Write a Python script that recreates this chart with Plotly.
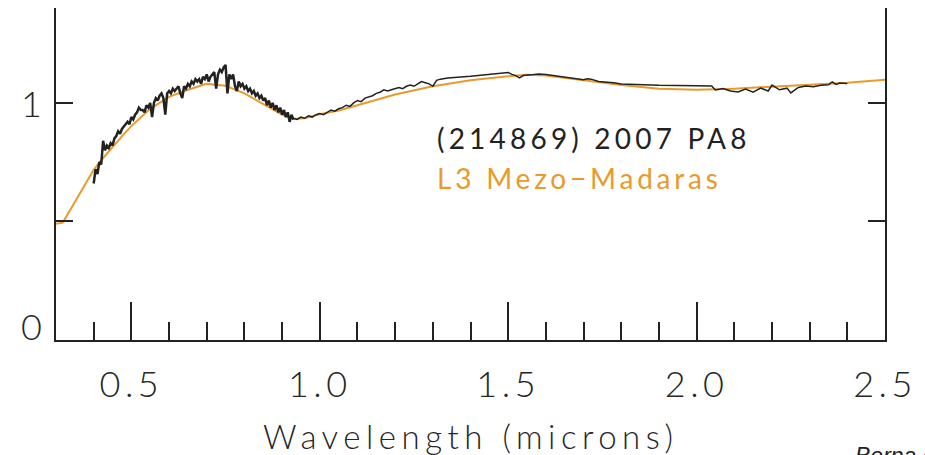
import plotly.graph_objects as go

# Visible-range reflectance spectrum of (214869) 2007 PA8
vis_wavelength = [
    0.400, 0.405, 0.410, 0.415, 0.420, 0.425, 0.430, 0.435, 0.440, 0.445,
    0.450, 0.455, 0.460, 0.465, 0.470, 0.475, 0.480, 0.485, 0.490, 0.495,
    0.500, 0.505, 0.510, 0.515, 0.520, 0.525, 0.530, 0.535, 0.540, 0.545,
    0.550, 0.555, 0.560, 0.565, 0.570, 0.575, 0.580, 0.585, 0.590, 0.595,
    0.600, 0.605, 0.610, 0.615, 0.620, 0.625, 0.630, 0.635, 0.640, 0.645,
    0.650, 0.655, 0.660, 0.665, 0.670, 0.675, 0.680, 0.685, 0.690, 0.695,
    0.700, 0.705, 0.710, 0.715, 0.720, 0.725, 0.730, 0.735, 0.740, 0.745,
    0.750, 0.755, 0.760, 0.765, 0.770, 0.775, 0.780, 0.785, 0.790, 0.795,
    0.800, 0.805, 0.810, 0.815, 0.820, 0.825, 0.830, 0.835, 0.840, 0.845,
    0.850, 0.855, 0.860, 0.865, 0.870, 0.875, 0.880, 0.885, 0.890, 0.895,
    0.900, 0.905, 0.910, 0.915, 0.920, 0.925, 0.930,
]
vis_reflectance = [
    0.66, 0.72, 0.70, 0.75, 0.74, 0.84, 0.80, 0.82, 0.81, 0.83,
    0.82, 0.85, 0.86, 0.88, 0.87, 0.89, 0.90, 0.91, 0.92, 0.91,
    0.94, 0.93, 0.95, 0.96, 0.98, 0.97, 0.97, 0.96, 0.99, 0.98,
    1.00, 0.94, 1.00, 1.02, 1.01, 1.03, 1.04, 1.02, 0.95, 1.04,
    1.05, 1.04, 1.06, 1.05, 1.06, 1.07, 1.04, 1.02, 1.07, 1.06,
    1.08, 1.07, 1.09, 1.08, 1.10, 1.09, 1.10, 1.08, 1.11, 1.10,
    1.12, 1.09, 1.11, 1.12, 1.13, 1.06, 1.12, 1.14, 1.13, 1.15,
    1.16, 1.04, 1.12, 1.10, 1.12, 1.07, 1.05, 1.09, 1.07, 1.08,
    1.06, 1.07, 1.05, 1.06, 1.04, 1.05, 1.03, 1.04, 1.02, 1.03,
    1.01, 1.02, 0.99, 1.01, 0.98, 1.00, 0.97, 0.99, 0.96, 0.98,
    0.95, 0.97, 0.94, 0.96, 0.92, 0.95, 0.93,
]

# Near-infrared reflectance spectrum of (214869) 2007 PA8
nir_wavelength = [
    0.93, 0.94, 0.95, 0.96, 0.97, 0.98, 0.99,
    1.00, 1.01, 1.02, 1.03, 1.04, 1.05, 1.06, 1.07, 1.08, 1.09,
    1.10, 1.11, 1.12, 1.13, 1.14, 1.15, 1.16, 1.17, 1.18, 1.19,
    1.20, 1.21, 1.22, 1.23, 1.24, 1.25, 1.26, 1.27, 1.28, 1.29,
    1.30, 1.31, 1.32, 1.34, 1.40, 1.46, 1.49,
    1.50, 1.51, 1.52, 1.53, 1.54,
    1.56, 1.58, 1.60, 1.62, 1.64, 1.66, 1.68, 1.70,
    1.71, 1.72, 1.74, 1.76, 1.78, 1.80, 1.90, 2.00,
    2.04, 2.05, 2.07, 2.09, 2.11, 2.13, 2.15, 2.17, 2.19,
    2.20, 2.22, 2.24, 2.25, 2.27, 2.29,
    2.31, 2.33, 2.35, 2.36, 2.37, 2.38, 2.40,
]
nir_reflectance = [
    0.935, 0.93, 0.94, 0.935, 0.945, 0.94, 0.95,
    0.955, 0.95, 0.96, 0.97, 0.965, 0.975, 0.98, 0.99, 0.985, 1.00,
    1.01, 1.005, 1.02, 1.025, 1.03, 1.04, 1.045, 1.055, 1.05, 1.055,
    1.06, 1.065, 1.06, 1.07, 1.075, 1.07, 1.08, 1.09, 1.085, 1.08,
    1.07, 1.095, 1.10, 1.105, 1.112, 1.12, 1.125,
    1.128, 1.12, 1.115, 1.105, 1.115,
    1.118, 1.122, 1.12, 1.115, 1.11, 1.105, 1.10, 1.098,
    1.102, 1.10, 1.09, 1.088, 1.085, 1.08, 1.074, 1.072,
    1.071, 1.054, 1.06, 1.05, 1.046, 1.058, 1.045, 1.062, 1.05,
    1.075, 1.055, 1.062, 1.042, 1.065, 1.071,
    1.068, 1.074, 1.076, 1.088, 1.078, 1.084, 1.082,
]

# Laboratory spectrum of the L3 ordinary chondrite Mezö-Madaras
met_wavelength = [
    0.30, 0.318, 0.34, 0.36, 0.38, 0.40, 0.42, 0.435, 0.45, 0.48, 0.50,
    0.55, 0.60, 0.65, 0.70, 0.75, 0.80, 0.85, 0.90, 0.93, 0.96,
    1.00, 1.05, 1.10, 1.20, 1.30, 1.40, 1.50, 1.55, 1.60, 1.70,
    1.80, 1.90, 2.00, 2.10, 2.20, 2.30, 2.40, 2.50,
]
met_reflectance = [
    0.49, 0.495, 0.555, 0.61, 0.665, 0.718, 0.758, 0.786, 0.815, 0.868, 0.902,
    0.975, 1.025, 1.055, 1.08, 1.072, 1.04, 0.995, 0.95, 0.932, 0.935,
    0.952, 0.968, 0.99, 1.035, 1.07, 1.095, 1.112, 1.118, 1.115, 1.095,
    1.075, 1.06, 1.055, 1.06, 1.068, 1.076, 1.085, 1.097,
]

y_tick_values = [0, 0.5, 1]
y_tick_labels = ["0", "", "1"]
x_tick_values = [0.5, 1.0, 1.5, 2.0, 2.5]
x_tick_labels = ["0.5", "1.0", "1.5", "2.0", "2.5"]

INK = "#222222"
TEXT = "#262626"
ORANGE = "#E99A2B"
FONT = "Lato"


def spaced(text, px):
    return f'<span style="letter-spacing:{px}px">{text}</span>'


fig = go.Figure()
fig.add_trace(go.Scatter(x=met_wavelength, y=met_reflectance, mode="lines",
                         line=dict(color=ORANGE, width=2), showlegend=False))
fig.add_trace(go.Scatter(x=vis_wavelength, y=vis_reflectance, mode="lines",
                         line=dict(color=INK, width=2.5), showlegend=False))
fig.add_trace(go.Scatter(x=nir_wavelength, y=nir_reflectance, mode="lines",
                         line=dict(color=INK, width=1.5), showlegend=False))

fig.update_layout(
    width=925, height=455,
    margin=dict(l=56, r=40, t=8, b=115),
    paper_bgcolor="white", plot_bgcolor="white",
    xaxis=dict(
        range=[0.3, 2.5], showgrid=False, zeroline=False,
        showline=True, linecolor=INK, linewidth=2,
        ticks="inside", ticklen=38, tickwidth=2, tickcolor=INK,
        tickvals=x_tick_values,
        ticktext=[spaced(t, 4.5) for t in x_tick_labels],
        tickfont=dict(family=FONT, size=36, color=TEXT, weight=300),
        ticklabelstandoff=12,
        minor=dict(dtick=0.1, tick0=0.3, ticks="inside", ticklen=18,
                   tickwidth=2, tickcolor=INK, showgrid=False),
    ),
    yaxis=dict(
        range=[0, 1.4], showgrid=False, zeroline=False,
        showline=True, linecolor=INK, linewidth=2, mirror="ticks",
        ticks="inside", ticklen=17, tickwidth=2, tickcolor=INK,
        tickvals=y_tick_values, ticktext=["", "", ""],
    ),
)

# y tick labels (the zero label sits a little above its tick)
for val, lab in zip(y_tick_values, y_tick_labels):
    if lab:
        fig.add_annotation(x=0, xref="paper", y=val, yref="y", text=lab,
                           showarrow=False, xanchor="right", yanchor="middle",
                           xshift=-12, yshift=14 if val == 0 else 0,
                           font=dict(family=FONT, size=36, color=TEXT,
                                     weight=300))

fig.add_annotation(x=0.5, xref="paper", y=-0.29, yref="paper",
                   text=spaced("Wavelength (microns)", 5.5), showarrow=False,
                   xanchor="center", yanchor="middle",
                   font=dict(family=FONT, size=33, color=TEXT, weight=300))

fig.add_annotation(x=1.305, xref="x", y=0.853, yref="y",
                   text=spaced("(214869) 2007 PA8", 4.2), showarrow=False,
                   xanchor="left", yanchor="middle",
                   font=dict(family=FONT, size=28, color=INK, weight=400))
fig.add_annotation(x=1.305, xref="x", y=0.685, yref="y",
                   text=spaced("L3 Mezo\u2212Madaras", 3.8), showarrow=False,
                   xanchor="left", yanchor="middle",
                   font=dict(family=FONT, size=28, color=ORANGE, weight=400))

fig.add_annotation(x=0.961, xref="paper", y=-0.303, yref="paper",
                   text="Borna et al.", showarrow=False,
                   xanchor="left", yanchor="top",
                   font=dict(family="Liberation Sans", size=23, color=INK,
                             style="italic"))

fig.write_html("out.html")
